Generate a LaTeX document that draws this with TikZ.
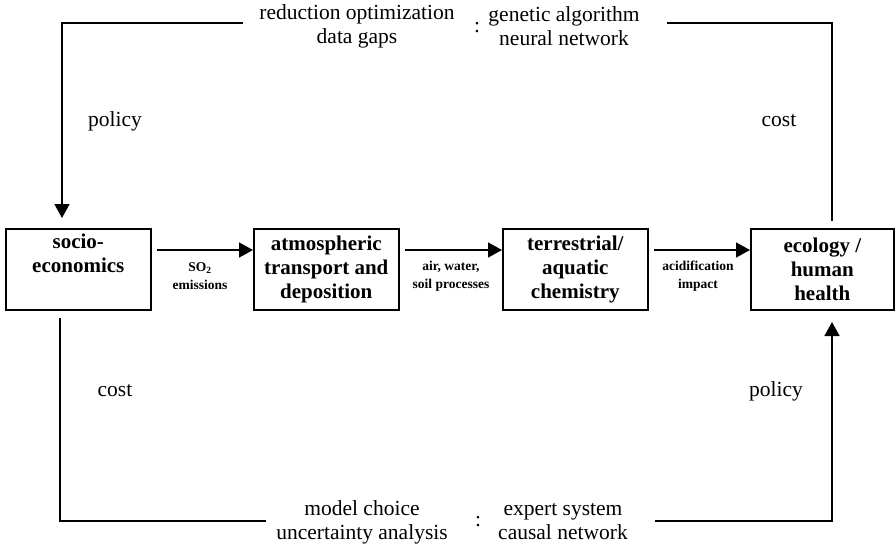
\documentclass[tikz,border=0pt]{standalone}
\usepackage{fontspec}
\setmainfont{Liberation Serif}
\usetikzlibrary{arrows.meta,calc}
\begin{document}
\begin{tikzpicture}[x=1pt,y=-1pt,
  box/.style={draw,line width=1.6pt,minimum width=145pt,minimum height=81pt,
    anchor=north west,inner sep=0pt,align=center,
    font=\fontsize{21}{24}\selectfont\bfseries},
  lbl/.style={align=center,inner sep=0pt,font=\fontsize{13.5}{18}\selectfont\bfseries},
  txt/.style={align=center,inner sep=0pt,font=\fontsize{21.5}{24}\selectfont},
  conn/.style={line width=1.6pt},
  arr/.style={line width=1.6pt,-{Triangle[length=14pt,width=15pt]}}]
\useasboundingbox (0,0) rectangle (895,546);
% boxes
\node[box] (s) at (5,228) {socio-\\economics\\\strut};
\node[box] (a) at (253,228) {atmospheric\\transport and\\deposition};
\node[box] (t) at (502,228) {terrestrial/\\aquatic\\chemistry};
\node[box,minimum width=143pt] (e) at (750,228) {ecology /\\human\\health};
% horizontal flow arrows
\draw[arr] ($(s.north east)+(5,22)$) -- ($(a.north west)+(0,22)$);
\draw[arr] ($(a.north east)+(5,22)$) -- ($(t.north west)+(0,22)$);
\draw[arr] ($(t.north east)+(5,22)$) -- ($(e.north west)+(0,22)$);
\node[lbl] (l1) at (200,276) {SO\textsubscript{2}\\emissions};
\node[lbl] (l2) at (451,276) {air, water,\\soil processes};
\node[lbl] (l3) at (698,276) {acidification\\impact};
% top text
\node[txt] (topL) at (357,26) {reduction optimization\\data gaps};
\node[txt] (topC) at (477,28) {:};
\node[txt] (topR) at (564,26) {genetic algorithm\\neural network};
% bottom text
\node[txt] (botL) at (362,522) {model choice\\uncertainty analysis};
\node[txt] (botC) at (478,522) {:};
\node[txt] (botR) at (563,522) {expert system\\causal network};
% loop coordinates
\coordinate (etop) at (832,221);
\coordinate (tr) at (832,23);
\coordinate (tR) at (667,23);
\coordinate (tL) at (243,23);
\coordinate (tl) at (62,23);
\coordinate (stop) at (62,218);
\coordinate (sbot) at (60,318);
\coordinate (bl) at (60,521);
\coordinate (bL) at (266,521);
\coordinate (bR) at (655,521);
\coordinate (br) at (832,521);
\coordinate (ebot) at (832,322);
% top loop
\draw[conn] (etop) -- (tr) -- (tR);
\draw[arr] (tL) -- (tl) -- (stop);
% bottom loop
\draw[conn] (sbot) -- (bl) -- (bL);
\draw[arr] (bR) -- (br) -- (ebot);
% side labels
\node[txt] (p1) at (115,121) {policy};
\node[txt] (c1) at (779,121) {cost};
\node[txt] (c2) at (115,391) {cost};
\node[txt] (p2) at (776,391) {policy};
\end{tikzpicture}
\end{document}
